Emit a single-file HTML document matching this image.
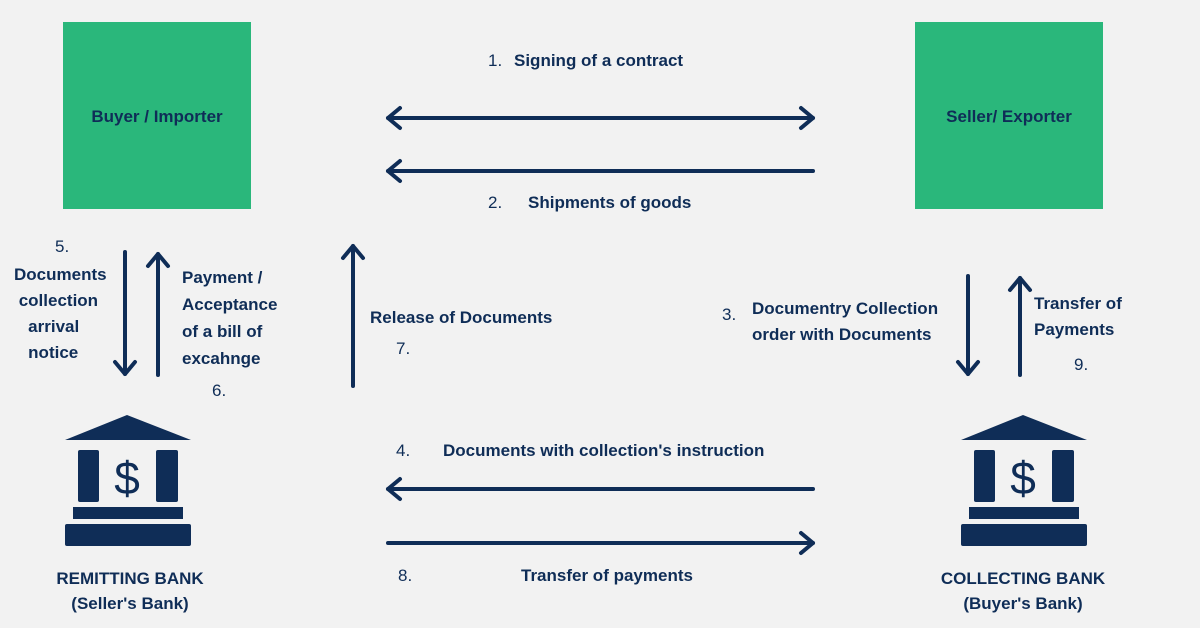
<!DOCTYPE html>
<html><head><style>
body{margin:0;width:1200px;height:628px;background:#f2f2f2;position:relative;overflow:hidden;font-family:"Liberation Sans",sans-serif;color:#0f2d57;}
.t{position:absolute;font-weight:bold;font-size:17px;line-height:26px;white-space:nowrap;}
.n{position:absolute;font-size:17px;line-height:26px;}
.box{position:absolute;background:#2ab77b;}
</style></head><body>
<div class="box" style="left:63px;top:22px;width:188px;height:187px"></div>
<div class="box" style="left:915px;top:22px;width:188px;height:187px"></div>
<div class="t" style="left:63px;top:104px;width:188px;text-align:center">Buyer / Importer</div>
<div class="t" style="left:915px;top:104px;width:188px;text-align:center">Seller/ Exporter</div>

<svg width="1200" height="628" style="position:absolute;left:0;top:0" fill="none" stroke="#0f2d57" stroke-width="4" stroke-linecap="round" stroke-linejoin="round">
<line x1="388" y1="118" x2="813" y2="118"/><polyline points="400,108 388,118 400,128"/><polyline points="801,108 813,118 801,128"/>
<line x1="388" y1="171" x2="813" y2="171"/><polyline points="400,161 388,171 400,181"/>
<line x1="388" y1="489" x2="813" y2="489"/><polyline points="400,479 388,489 400,499"/>
<line x1="388" y1="543" x2="813" y2="543"/><polyline points="801,533 813,543 801,553"/>
<line x1="125" y1="252" x2="125" y2="374"/><polyline points="115,362 125,374 135,362"/>
<line x1="158" y1="254" x2="158" y2="375"/><polyline points="148,266 158,254 168,266"/>
<line x1="353" y1="246" x2="353" y2="386"/><polyline points="343,258 353,246 363,258"/>
<line x1="968" y1="276" x2="968" y2="374"/><polyline points="958,362 968,374 978,362"/>
<line x1="1020" y1="278" x2="1020" y2="375"/><polyline points="1010,290 1020,278 1030,290"/>
<g id="bank" fill="#0f2d57" stroke="none">
<polygon points="65,440 127,415 191,440"/>
<rect x="78" y="450" width="21" height="52" rx="2"/>
<rect x="156" y="450" width="22" height="52" rx="2"/>
<rect x="73" y="507" width="110" height="12"/>
<rect x="65" y="524" width="126" height="22" rx="2"/>
</g>
<text x="127" y="494" font-family="Liberation Sans" font-size="46" fill="#0f2d57" stroke="none" text-anchor="middle">$</text>
<use href="#bank" x="896"/>
<text x="1023" y="494" font-family="Liberation Sans" font-size="46" fill="#0f2d57" stroke="none" text-anchor="middle">$</text>
</svg>

<div class="n" style="left:488px;top:48px">1.</div><div class="t" style="left:514px;top:48px">Signing of a contract</div>
<div class="n" style="left:488px;top:190px">2.</div><div class="t" style="left:528px;top:190px">Shipments of goods</div>
<div class="n" style="left:722px;top:302px">3.</div><div class="t" style="left:752px;top:296px;line-height:26px">Documentry Collection<br>order with Documents</div>
<div class="n" style="left:396px;top:438px">4.</div><div class="t" style="left:443px;top:438px">Documents with collection's instruction</div>
<div class="n" style="left:398px;top:563px">8.</div><div class="t" style="left:521px;top:563px">Transfer of payments</div>
<div class="n" style="left:55px;top:234px">5.</div>
<div class="t" style="left:14px;top:262px;line-height:26px">Documents<br>&nbsp;collection<br>&nbsp;&nbsp;&nbsp;arrival<br>&nbsp;&nbsp;&nbsp;notice</div>
<div class="t" style="left:182px;top:264px;line-height:27px">Payment /<br>Acceptance<br>of a bill of<br>excahnge</div>
<div class="n" style="left:212px;top:378px">6.</div>
<div class="t" style="left:370px;top:305px">Release of Documents</div>
<div class="n" style="left:396px;top:336px">7.</div>
<div class="t" style="left:1034px;top:291px;line-height:26px">Transfer of<br>Payments</div>
<div class="n" style="left:1074px;top:352px">9.</div>
<div class="t" style="left:30px;top:566px;width:200px;text-align:center;line-height:25px">REMITTING BANK<br>(Seller's Bank)</div>
<div class="t" style="left:923px;top:566px;width:200px;text-align:center;line-height:25px">COLLECTING BANK<br>(Buyer's Bank)</div>
</body></html>
